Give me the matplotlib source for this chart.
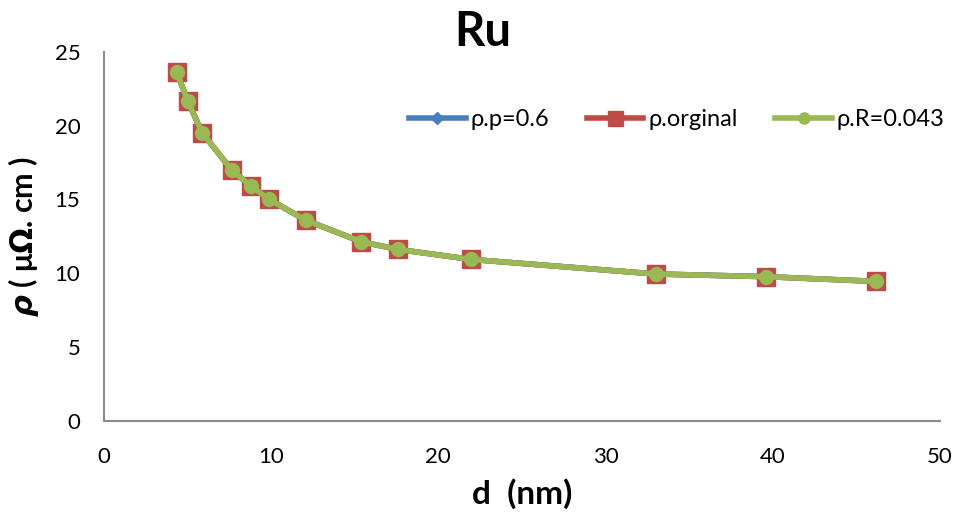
import matplotlib
matplotlib.use("Agg")
import matplotlib.pyplot as plt

plt.rcParams['font.family'] = ['Lato', 'DejaVu Sans']
plt.rcParams['mathtext.fontset'] = 'custom'
plt.rcParams['mathtext.it'] = 'DejaVu Sans:italic:bold'
plt.rcParams['mathtext.rm'] = 'DejaVu Sans:bold'

# thickness d (nm)
d = [4.35, 5.01, 5.87, 7.64, 8.77, 9.87, 12.08, 15.37, 17.56, 21.95, 33.0, 39.6, 46.17]

# resistivity series (uOhm.cm)
rho_p = [23.6, 21.66, 19.51, 16.98, 15.92, 15.0, 13.58, 12.13, 11.61, 10.93, 9.94, 9.76, 9.44]
rho_orig = [23.6, 21.66, 19.51, 16.98, 15.92, 15.0, 13.58, 12.13, 11.61, 10.93, 9.94, 9.76, 9.44]
rho_R = [23.6, 21.66, 19.51, 16.98, 15.92, 15.0, 13.58, 12.13, 11.61, 10.93, 9.94, 9.76, 9.44]

fig = plt.figure(figsize=(9.58, 5.23), dpi=100)
ax = fig.add_axes([0.1086, 0.1956, 0.8724, 0.7055])

ax.plot(d, rho_p, color='#4A7EBB', lw=4, marker='D', ms=8, label='ρ.p=0.6')
ax.plot(d, rho_orig, color='#BE4B48', lw=4, marker='s', ms=13.5, label='ρ.orginal')
ax.plot(d, rho_R, color='#98B954', lw=4, marker='o', ms=10, label='ρ.R=0.043')

ax.set_xlim(0, 50)
ax.set_ylim(0, 25)
ax.set_xticks([0, 10, 20, 30, 40, 50])
ax.set_yticks([0, 5, 10, 15, 20, 25])
ax.tick_params(length=0, labelsize=16)
ax.tick_params(axis='y', pad=17)
ax.tick_params(axis='x', pad=19)

for s in ['top', 'right']:
    ax.spines[s].set_visible(False)
for s in ['left', 'bottom']:
    ax.spines[s].set_color('#8C8C8C')
    ax.spines[s].set_linewidth(1.5)

fig.text(483 / 958, 1 - 32 / 523, 'Ru', fontsize=34, fontweight='bold', ha='center', va='center')
ax.set_xlabel('d  (nm)', fontsize=24, fontweight='bold', labelpad=8)
ax.set_ylabel(r'$\it{\rho}$ ( μ$\it{\Omega}$. cm )', fontsize=22, fontweight='bold', labelpad=10)

ax.legend(loc='center right', bbox_to_anchor=(0.986, 0.7706), bbox_transform=fig.transFigure,
          ncol=3, frameon=False, fontsize=17, handlelength=2.4, handletextpad=0.2,
          columnspacing=1.6, borderaxespad=0, borderpad=0, markerscale=0.8)

plt.savefig('out.png', dpi=100)
